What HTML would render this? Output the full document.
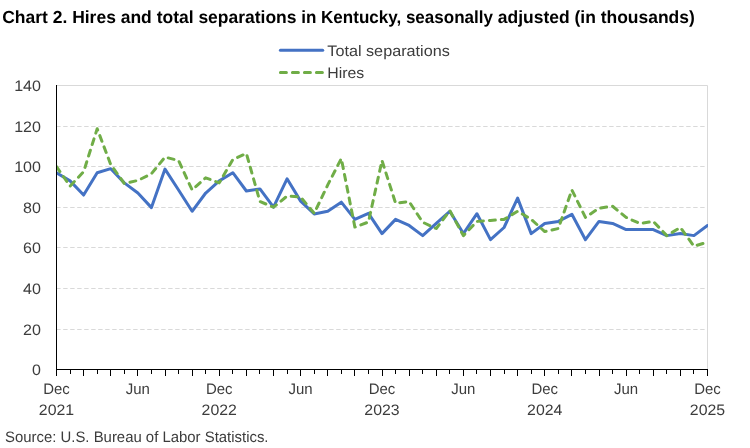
<!DOCTYPE html>
<html lang="en"><head><meta charset="utf-8"><title>Chart 2. Hires and total separations in Kentucky</title>
<style>
html,body{margin:0;padding:0;background:#fff;}
body{width:750px;height:448px;overflow:hidden;font-family:"Liberation Sans",sans-serif;}
svg{display:block;}
text{font-family:"Liberation Sans",sans-serif;text-rendering:geometricPrecision;}
.t{font-size:15.2px;fill:#3c3c3c;}
.y{font-size:15.2px;fill:#3c3c3c;}
.title{font-size:17.5px;font-weight:bold;fill:#000;}
</style></head><body>
<svg width="750" height="448" viewBox="0 0 750 448">
<rect width="750" height="448" fill="#fff"/>
<text class="title" y="23"><tspan x="2.2" textLength="299.2" lengthAdjust="spacingAndGlyphs">Chart 2. Hires and total separations </tspan><tspan x="301.2" textLength="196.5" lengthAdjust="spacingAndGlyphs">in Kentucky, seasonally </tspan><tspan x="497.8" textLength="197" lengthAdjust="spacingAndGlyphs">adjusted (in thousands)</tspan></text>
<line x1="280.4" y1="50.3" x2="322.7" y2="50.3" stroke="#4472C4" stroke-width="3" stroke-linecap="round"/>
<text class="t" x="327.3" y="56" textLength="122.5" lengthAdjust="spacingAndGlyphs">Total separations</text>
<line x1="280.4" y1="72.5" x2="322.7" y2="72.5" stroke="#70AD47" stroke-width="3" stroke-linecap="round" stroke-dasharray="6 6"/>
<text class="t" x="327.3" y="78" textLength="37" lengthAdjust="spacingAndGlyphs">Hires</text>
<path d="M56.50 85.50 H707.50 V369.50" fill="none" stroke="#D9D9D9" stroke-width="1"/>
<line x1="56.20" y1="329.50" x2="707.50" y2="329.50" stroke="#D9D9D9" stroke-width="1" stroke-dasharray="4.4 2.6"/>
<line x1="56.20" y1="288.50" x2="707.50" y2="288.50" stroke="#D9D9D9" stroke-width="1" stroke-dasharray="4.4 2.6"/>
<line x1="56.20" y1="247.50" x2="707.50" y2="247.50" stroke="#D9D9D9" stroke-width="1" stroke-dasharray="4.4 2.6"/>
<line x1="56.20" y1="207.50" x2="707.50" y2="207.50" stroke="#D9D9D9" stroke-width="1" stroke-dasharray="4.4 2.6"/>
<line x1="56.20" y1="166.50" x2="707.50" y2="166.50" stroke="#D9D9D9" stroke-width="1" stroke-dasharray="4.4 2.6"/>
<line x1="56.20" y1="126.50" x2="707.50" y2="126.50" stroke="#D9D9D9" stroke-width="1" stroke-dasharray="4.4 2.6"/>
<text class="y" x="41" y="375.0" text-anchor="end" textLength="8.9" lengthAdjust="spacingAndGlyphs">0</text>
<text class="y" x="41" y="335.0" text-anchor="end" textLength="17.9" lengthAdjust="spacingAndGlyphs">20</text>
<text class="y" x="41" y="294.0" text-anchor="end" textLength="17.9" lengthAdjust="spacingAndGlyphs">40</text>
<text class="y" x="41" y="253.0" text-anchor="end" textLength="17.9" lengthAdjust="spacingAndGlyphs">60</text>
<text class="y" x="41" y="213.0" text-anchor="end" textLength="17.9" lengthAdjust="spacingAndGlyphs">80</text>
<text class="y" x="41" y="172.0" text-anchor="end" textLength="26.8" lengthAdjust="spacingAndGlyphs">100</text>
<text class="y" x="41" y="132.0" text-anchor="end" textLength="26.8" lengthAdjust="spacingAndGlyphs">120</text>
<text class="y" x="41" y="91.0" text-anchor="end" textLength="26.8" lengthAdjust="spacingAndGlyphs">140</text>
<clipPath id="pc"><rect x="56.50" y="85.50" width="651.50" height="284.00"/></clipPath>
<g clip-path="url(#pc)">
<polyline points="56.50,172.73 70.06,180.84 83.62,195.04 97.19,172.73 110.75,168.67 124.31,182.87 137.88,193.01 151.44,207.62 165.00,169.08 178.56,189.97 192.12,211.27 205.69,193.01 219.25,180.84 232.81,172.73 246.38,190.99 259.94,188.96 273.50,207.21 287.06,178.81 300.62,201.13 314.19,213.91 327.75,211.27 341.31,202.14 354.88,219.39 368.44,213.30 382.00,233.59 395.56,219.39 409.12,225.47 422.69,235.61 436.25,223.44 449.81,211.27 463.38,233.59 476.94,213.71 490.50,239.67 504.06,227.50 517.62,198.09 531.19,233.59 544.75,223.44 558.31,221.41 571.88,214.31 585.44,239.67 599.00,221.41 612.56,223.44 626.12,229.53 639.69,229.53 653.25,229.53 666.81,235.61 680.38,233.59 693.94,235.61 707.50,225.47" fill="none" stroke="#4472C4" stroke-width="3" stroke-linecap="round" stroke-linejoin="round"/>
<polyline points="56.50,166.64 70.06,186.12 83.62,171.71 97.19,128.71 110.75,164.61 124.31,183.48 137.88,180.44 151.44,173.74 165.00,157.11 178.56,160.56 192.12,189.97 205.69,177.80 219.25,182.87 232.81,159.54 246.38,153.46 259.94,201.53 273.50,207.21 287.06,196.06 300.62,197.07 314.19,213.30 327.75,184.90 341.31,158.53 354.88,227.09 368.44,222.02 382.00,160.56 395.56,203.16 409.12,201.53 422.69,222.23 436.25,228.51 449.81,210.66 463.38,235.61 476.94,221.41 490.50,220.40 504.06,219.39 517.62,211.27 531.19,219.39 544.75,231.56 558.31,228.51 571.88,189.97 585.44,217.36 599.00,208.23 612.56,206.20 626.12,217.36 639.69,223.44 653.25,221.41 666.81,235.61 680.38,227.50 693.94,246.16 707.50,242.11" fill="none" stroke="#70AD47" stroke-width="3" stroke-linecap="round" stroke-linejoin="round" stroke-dasharray="6 6"/>
</g>
<line x1="56.50" y1="85.00" x2="56.50" y2="370.00" stroke="#000" stroke-width="1"/>
<line x1="56.00" y1="369.50" x2="708.00" y2="369.50" stroke="#000" stroke-width="1"/>
<path d="M56.5 369.50v6.5M70.5 369.50v4.5M83.5 369.50v6.5M97.5 369.50v4.5M110.5 369.50v6.5M124.5 369.50v4.5M137.5 369.50v6.5M151.5 369.50v4.5M165.5 369.50v6.5M178.5 369.50v4.5M192.5 369.50v6.5M205.5 369.50v4.5M219.5 369.50v6.5M232.5 369.50v4.5M246.5 369.50v6.5M259.5 369.50v4.5M273.5 369.50v6.5M287.5 369.50v4.5M300.5 369.50v6.5M314.5 369.50v4.5M327.5 369.50v6.5M341.5 369.50v4.5M354.5 369.50v6.5M368.5 369.50v4.5M382.5 369.50v6.5M395.5 369.50v4.5M409.5 369.50v6.5M422.5 369.50v4.5M436.5 369.50v6.5M449.5 369.50v4.5M463.5 369.50v6.5M476.5 369.50v4.5M490.5 369.50v6.5M504.5 369.50v4.5M517.5 369.50v6.5M531.5 369.50v4.5M544.5 369.50v6.5M558.5 369.50v4.5M571.5 369.50v6.5M585.5 369.50v4.5M599.5 369.50v6.5M612.5 369.50v4.5M626.5 369.50v6.5M639.5 369.50v4.5M653.5 369.50v6.5M666.5 369.50v4.5M680.5 369.50v6.5M693.5 369.50v4.5M707.5 369.50v6.5" stroke="#000" stroke-width="1" fill="none"/>
<text class="t" x="56.50" y="394" text-anchor="middle" textLength="26.6" lengthAdjust="spacingAndGlyphs">Dec</text>
<text class="t" x="56.50" y="415" text-anchor="middle" textLength="35.3" lengthAdjust="spacingAndGlyphs">2021</text>
<text class="t" x="137.88" y="394" text-anchor="middle" textLength="24.2" lengthAdjust="spacingAndGlyphs">Jun</text>
<text class="t" x="219.25" y="394" text-anchor="middle" textLength="26.6" lengthAdjust="spacingAndGlyphs">Dec</text>
<text class="t" x="219.25" y="415" text-anchor="middle" textLength="35.3" lengthAdjust="spacingAndGlyphs">2022</text>
<text class="t" x="300.62" y="394" text-anchor="middle" textLength="24.2" lengthAdjust="spacingAndGlyphs">Jun</text>
<text class="t" x="382.00" y="394" text-anchor="middle" textLength="26.6" lengthAdjust="spacingAndGlyphs">Dec</text>
<text class="t" x="382.00" y="415" text-anchor="middle" textLength="35.3" lengthAdjust="spacingAndGlyphs">2023</text>
<text class="t" x="463.38" y="394" text-anchor="middle" textLength="24.2" lengthAdjust="spacingAndGlyphs">Jun</text>
<text class="t" x="544.75" y="394" text-anchor="middle" textLength="26.6" lengthAdjust="spacingAndGlyphs">Dec</text>
<text class="t" x="544.75" y="415" text-anchor="middle" textLength="35.3" lengthAdjust="spacingAndGlyphs">2024</text>
<text class="t" x="626.12" y="394" text-anchor="middle" textLength="24.2" lengthAdjust="spacingAndGlyphs">Jun</text>
<text class="t" x="707.50" y="394" text-anchor="middle" textLength="26.6" lengthAdjust="spacingAndGlyphs">Dec</text>
<text class="t" x="707.50" y="415" text-anchor="middle" textLength="35.3" lengthAdjust="spacingAndGlyphs">2025</text>
<text class="t" x="5" y="442" textLength="263.5" lengthAdjust="spacingAndGlyphs">Source: U.S. Bureau of Labor Statistics.</text>
</svg></body></html>
